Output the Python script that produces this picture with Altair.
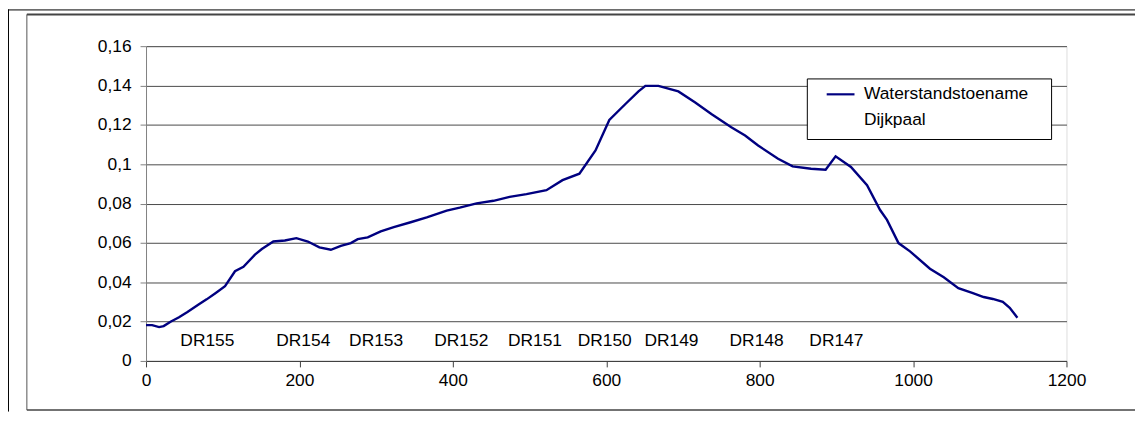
import altair as alt
import pandas as pd

# ---- data ----
afstand = [0, 8, 17, 23, 32, 43, 54, 69, 79, 90, 103, 116, 127, 142, 151, 166, 181, 196, 211, 226,
           241, 254, 267, 276, 289, 306, 323, 345, 366, 392, 409, 431, 453, 474, 496, 522, 543, 565,
           586, 604, 625, 642, 651, 668, 694, 716, 737, 763, 781, 798, 824, 843, 867, 886, 899, 919,
           940, 957, 966, 981, 996, 1022, 1040, 1059, 1078, 1092, 1104, 1117, 1126, 1136]
toename = [0.0182, 0.0182, 0.0172, 0.0177, 0.0199, 0.0222, 0.0249, 0.0288, 0.0313, 0.0343, 0.038,
           0.0456, 0.0478, 0.054, 0.0569, 0.0607, 0.0612, 0.0624, 0.0607, 0.0577, 0.0565, 0.0585,
           0.0599, 0.0619, 0.0628, 0.0658, 0.068, 0.0705, 0.073, 0.0764, 0.0779, 0.0801, 0.0814,
           0.0834, 0.0848, 0.0868, 0.0919, 0.0952, 0.107, 0.1225, 0.1306, 0.137, 0.1398, 0.1398,
           0.137, 0.1314, 0.1255, 0.1188, 0.1146, 0.1095, 0.1028, 0.0989, 0.0977, 0.0972, 0.104,
           0.0986, 0.0893, 0.0767, 0.0717, 0.0599, 0.0557, 0.0469, 0.0425, 0.037, 0.0345, 0.0325,
           0.0315, 0.030, 0.027, 0.022]

dijkpaal_x = [80, 205, 300, 411, 507, 598, 685, 796, 900]
dijkpaal_y = [0.01, 0.01, 0.01, 0.01, 0.01, 0.01, 0.01, 0.01, 0.01]
dijkpaal_labels = ["DR155", "DR154", "DR153", "DR152", "DR151", "DR150", "DR149", "DR148", "DR147"]

x_ticks = [0, 200, 400, 600, 800, 1000, 1200]
y_ticks = [0, 0.02, 0.04, 0.06, 0.08, 0.1, 0.12, 0.14, 0.16]
series_names = ["Waterstandstoename", "Dijkpaal"]
series_colors = ["#000080", "transparent"]

FONT = "Liberation Sans"
FS = 17.5

line_df = pd.DataFrame({"afstand": afstand, "toename": toename,
                        "reeks": ["Waterstandstoename"] * len(afstand)})
dp_df = pd.DataFrame({"afstand": dijkpaal_x, "toename": dijkpaal_y, "label": dijkpaal_labels})
one = pd.DataFrame({"k": [0]})

xscale = alt.Scale(domain=[0, 1200], nice=False, zero=False)
yscale = alt.Scale(domain=[0, 0.16], nice=False)

xaxis = alt.Axis(values=x_ticks, tickCount=len(x_ticks), format="d", grid=False, title=None,
                 domainColor="#404040", tickColor="#404040", tickSize=6, labelPadding=5,
                 labelFont=FONT, labelFontSize=FS, labelColor="black", labelFlush=False,
                 labelOverlap=False)
yaxis = alt.Axis(values=y_ticks, tickCount=len(y_ticks), grid=True, gridColor="#4a4a4a", title=None,
                 domainColor="#808080", tickColor="#808080", tickSize=6, labelPadding=9,
                 labelFont=FONT, labelFontSize=FS, labelColor="black", labelFlush=False,
                 labelOverlap=False,
                 labelExpr="replace(format(datum.value, '~g'), '.', ',')")

line = alt.Chart(line_df).mark_line(strokeWidth=2.4).encode(
    x=alt.X("afstand:Q", scale=xscale, axis=xaxis),
    y=alt.Y("toename:Q", scale=yscale, axis=yaxis),
    color=alt.Color("reeks:N", scale=alt.Scale(domain=series_names, range=series_colors),
                    legend=alt.Legend(orient="none", legendX=666, legendY=33, title=None, padding=0,
                                      symbolType="stroke", symbolSize=784, symbolStrokeWidth=2.2,
                                      symbolOffset=18, labelOffset=8, rowPadding=2, labelLimit=400,
                                      labelFont=FONT, labelFontSize=FS, labelColor="black")),
)

labels = alt.Chart(dp_df).mark_text(font=FONT, fontSize=FS, baseline="middle", align="center",
                                    color="black").encode(
    x=alt.X("afstand:Q", scale=xscale, axis=xaxis),
    y=alt.Y("toename:Q", scale=yscale, axis=yaxis),
    text="label:N",
)

# decorative frames
def hrule(y, x1, x2, color, w):
    return alt.Chart(one).mark_rule(color=color, strokeWidth=w).encode(
        x=alt.value(x1), x2=alt.value(x2), y=alt.value(y))

def vrule(x, y1, y2, color, w):
    return alt.Chart(one).mark_rule(color=color, strokeWidth=w).encode(
        x=alt.value(x), y=alt.value(y1), y2=alt.value(y2))

frames = [
    hrule(-36.5, -139, 996, "black", 1),
    vrule(-138.5, -37, 368, "black", 1),
    hrule(-32, -120, 996, "#444444", 2),
    vrule(-120, -32, 366.5, "#555555", 1),
    hrule(366.5, -120, 996, "#444444", 1.5),
]

legend_box = alt.Chart(one).mark_rect(fill="white", stroke="black", strokeWidth=1).encode(
    x=alt.value(666), x2=alt.value(912), y=alt.value(33), y2=alt.value(94))

chart = alt.layer(*frames, legend_box, line, labels).properties(
    width=927, height=317,
    padding={"left": 139, "top": 37, "right": 69, "bottom": 51},
    autosize=alt.AutoSizeParams(type="none"),
).configure_view(strokeWidth=0).configure(background="white")

chart.save("out.html", embed_options={"renderer": "svg", "actions": False})
